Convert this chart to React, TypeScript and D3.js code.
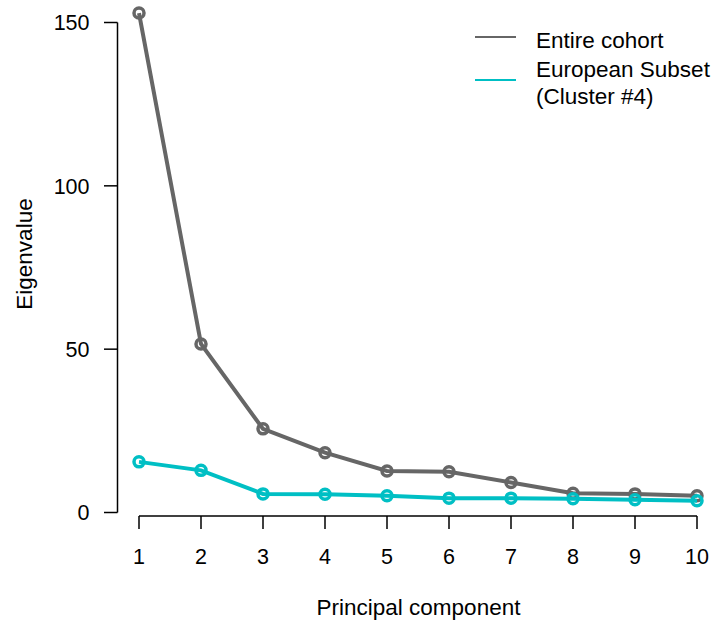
import { useEffect, useRef } from 'react';
import * as d3 from 'd3';

const components = [1, 2, 3, 4, 5, 6, 7, 8, 9, 10];
const entireCohort = [152.9, 51.6, 25.6, 18.3, 12.7, 12.5, 9.2, 5.9, 5.7, 5.1];
const europeanSubset = [15.5, 12.9, 5.7, 5.6, 5.1, 4.4, 4.4, 4.2, 3.9, 3.6];
const yTicks = [0, 50, 100, 150];

const seriesNames = ['Entire cohort', 'European Subset\n(Cluster #4)'];
const seriesColors = ['#666666', '#00bfc4'];

export default function App() {
  const svgRef = useRef<SVGSVGElement>(null);

  useEffect(() => {
    const svg = d3.select(svgRef.current);
    svg.selectAll('*').remove();

    const width = 714;
    const height = 625;
    const font = '"Liberation Sans", Arial, sans-serif';

    const x = d3.scaleLinear().domain([1, 10]).range([139, 697]);
    const y = d3.scaleLinear().domain([0, 150]).range([512.5, 22.5]);

    svg.attr('width', width).attr('height', height).style('font-family', font);

    // y axis
    const yAxis = svg.append('g');
    yAxis.append('line')
      .attr('x1', 117.5).attr('x2', 117.5)
      .attr('y1', y(0)).attr('y2', y(150))
      .attr('stroke', '#000').attr('stroke-width', 1.5);
    yTicks.forEach(t => {
      yAxis.append('line')
        .attr('x1', 104).attr('x2', 117.5)
        .attr('y1', y(t)).attr('y2', y(t))
        .attr('stroke', '#000').attr('stroke-width', 1.5);
      yAxis.append('text')
        .attr('x', 89.5).attr('y', y(t))
        .attr('dy', '0.36em')
        .attr('text-anchor', 'end')
        .style('font-size', '21.5px')
        .text(t);
    });

    // x axis
    const xAxis = svg.append('g');
    xAxis.append('line')
      .attr('x1', x(1)).attr('x2', x(10))
      .attr('y1', 516).attr('y2', 516)
      .attr('stroke', '#000').attr('stroke-width', 1.5);
    components.forEach(c => {
      xAxis.append('line')
        .attr('x1', x(c)).attr('x2', x(c))
        .attr('y1', 516).attr('y2', 529)
        .attr('stroke', '#000').attr('stroke-width', 1.5);
      xAxis.append('text')
        .attr('x', x(c)).attr('y', 564)
        .attr('text-anchor', 'middle')
        .style('font-size', '21.5px')
        .text(c);
    });

    svg.append('text')
      .attr('x', 418.5).attr('y', 615)
      .attr('text-anchor', 'middle')
      .style('font-size', '22.5px')
      .text('Principal component');

    svg.append('text')
      .attr('transform', 'rotate(-90)')
      .attr('x', -254).attr('y', 32)
      .attr('text-anchor', 'middle')
      .style('font-size', '22.5px')
      .text('Eigenvalue');

    const line = d3.line<number>()
      .x((_, i) => x(components[i]))
      .y(d => y(d));

    [entireCohort, europeanSubset].forEach((vals, s) => {
      svg.append('path')
        .datum(vals)
        .attr('d', line)
        .attr('fill', 'none')
        .attr('stroke', seriesColors[s])
        .attr('stroke-width', 4);
      svg.append('g')
        .selectAll('circle')
        .data(vals)
        .join('circle')
        .attr('cx', (_, i) => x(components[i]))
        .attr('cy', d => y(d))
        .attr('r', 5)
        .attr('fill', 'none')
        .attr('stroke', seriesColors[s])
        .attr('stroke-width', 3.5);
    });

    // legend
    const legend = svg.append('g');
    const legendY = [37, 80];
    seriesNames.forEach((name, i) => {
      legend.append('line')
        .attr('x1', 475).attr('x2', 516)
        .attr('y1', legendY[i]).attr('y2', legendY[i])
        .attr('stroke', seriesColors[i])
        .attr('stroke-width', 2);
      const lines = name.split('\n');
      const txt = legend.append('text')
        .attr('x', 536)
        .style('font-size', '22.5px');
      lines.forEach((l, j) => {
        txt.append('tspan')
          .attr('x', 536)
          .attr('y', (i === 0 ? 48 : 77) + j * 27)
          .text(l);
      });
    });
  }, []);

  return <svg ref={svgRef} style={{ position: 'absolute', left: 0, top: 0 }}></svg>;
}
